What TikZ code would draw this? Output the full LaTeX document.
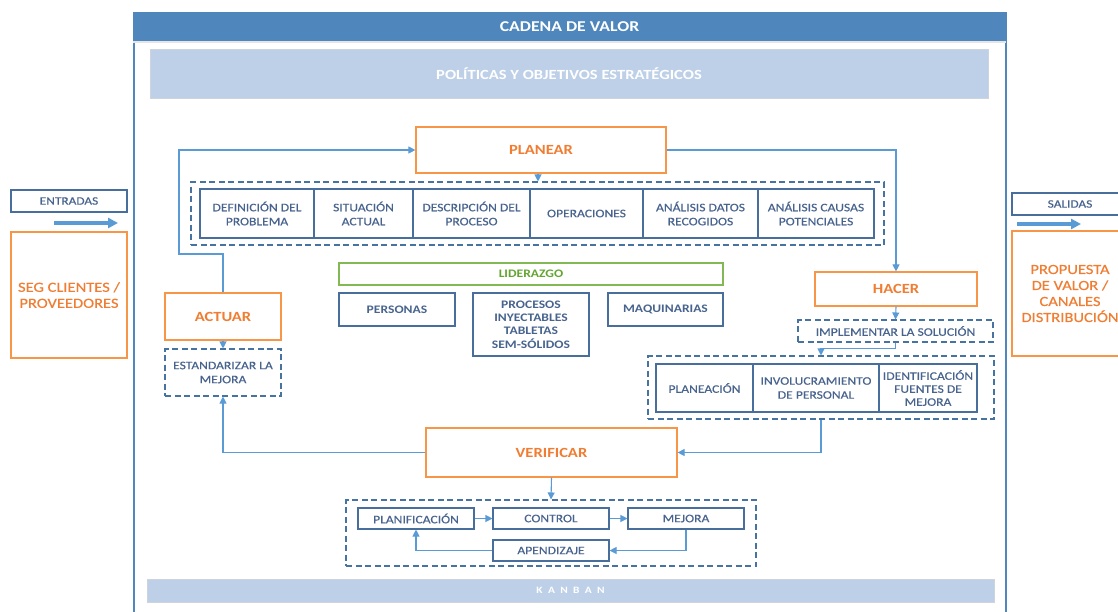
\documentclass[tikz,border=0pt]{standalone}
\usepackage{fontspec}
\setmainfont{Carlito}[FakeStretch=1.18]
\newfontfamily\labelfont{Carlito}[FakeStretch=1.18, FakeBold=0.35]
\usetikzlibrary{arrows.meta}

\definecolor{hdrblue}{RGB}{79,135,188}
\definecolor{barblue}{RGB}{189,208,232}
\definecolor{barline}{RGB}{205,212,222}
\definecolor{boxline}{RGB}{72,110,155}
\definecolor{boxtext}{RGB}{72,100,142}
\definecolor{dashline}{RGB}{70,115,160}
\definecolor{arrowblue}{RGB}{91,155,213}
\definecolor{orangeline}{RGB}{247,150,70}
\definecolor{orangetext}{RGB}{240,125,50}
\definecolor{greenline}{RGB}{130,185,85}
\definecolor{greentext}{RGB}{100,165,50}

\tikzset{
  base/.style={inner sep=0pt, align=center},
  stepbox/.style={base, draw=boxline, line width=1.1pt, text=boxtext,
    font=\labelfont\fontsize{11.5}{14}\selectfont},
  keybox/.style={stepbox, font=\bfseries\fontsize{11.5}{13.3}\selectfont},
  phasebox/.style={base, draw=orangeline, line width=1.2pt, text=orangetext,
    font=\bfseries\fontsize{14}{16}\selectfont},
  sidebox/.style={base, draw=orangeline, line width=1.2pt, text=orangetext,
    font=\labelfont\fontsize{14}{16}\selectfont},
  groupbox/.style={base, draw=dashline, line width=1.1pt, dash pattern=on 6pt off 3.5pt,
    text=boxtext, font=\labelfont\fontsize{11.5}{14}\selectfont},
  bar/.style={base, fill=barblue, draw=barline, line width=0.8pt, text=white,
    font=\bfseries\fontsize{14}{16}\selectfont},
  flow/.style={draw=arrowblue, line width=1.1pt, -{Triangle[length=7pt,width=7pt]}},
  bigflow/.style={draw=arrowblue, line width=3.5pt, -{Triangle[length=10pt,width=10pt]}},
}

\begin{document}
\begin{tikzpicture}[x=1pt, y=-1pt]
\useasboundingbox (0,0) rectangle (1118,611);
\fill[white] (0,0) rectangle (1118,611);

% value chain frame and header
\draw[hdrblue, line width=1.5pt] (134,12) -- (134,615) (1006,12) -- (1006,615);
\node[base, fill=hdrblue, minimum width=873pt, minimum height=29pt, text=white,
  font=\bfseries\fontsize{15}{17}\selectfont] (header) at (569.5,26.5) {CADENA DE VALOR};
\fill[black!10] (133,41) rectangle (1006,43);

% strategic bars
\node[bar, minimum width=838pt, minimum height=49pt] (pol) at (569,73.5)
  {POLÍTICAS Y OBJETIVOS ESTRATÉGICOS};
\node[bar, minimum width=847pt, minimum height=23pt,
  font=\bfseries\fontsize{9.7}{11}\selectfont\addfontfeature{LetterSpace=55}] (kanban) at (570.5,590.5)
  {KANBAN};

% inputs
\node[stepbox, minimum width=116pt, minimum height=22pt, font=\labelfont\fontsize{11.3}{13}\selectfont]
  (entradas) at (69,201) {ENTRADAS};
\coordinate (inA) at (54,223);
\coordinate (inB) at (118,223);
\draw[bigflow] (inA) -- (inB);
\node[sidebox, minimum width=116pt, minimum height=126pt] (seg) at (69,295)
  {SEG CLIENTES /\\PROVEEDORES};

% outputs
\node[stepbox, minimum width=116pt, minimum height=22pt, font=\labelfont\fontsize{11.3}{13}\selectfont]
  (salidas) at (1070,204) {SALIDAS};
\coordinate (outA) at (1017,224);
\coordinate (outB) at (1081,224);
\draw[bigflow] (outA) -- (outB);
\node[sidebox, minimum width=116pt, minimum height=125pt] (prop) at (1070,293.5)
  {PROPUESTA\\DE VALOR /\\CANALES\\DISTRIBUCIÓN};

% PLANEAR
\node[phasebox, minimum width=250pt, minimum height=46pt] (planear) at (541,150) {PLANEAR};
\node[groupbox, minimum width=693pt, minimum height=63pt] (gplan) at (537.5,213.5) {};
\node[stepbox, minimum width=114pt, minimum height=49pt] (def) at (257,213.5) {DEFINICIÓN DEL\\PROBLEMA};
\node[stepbox, minimum width=99pt, minimum height=49pt] (sit) at (363.5,213.5) {SITUACIÓN\\ACTUAL};
\node[stepbox, minimum width=117pt, minimum height=49pt] (desc) at (471.5,213.5) {DESCRIPCIÓN DEL\\PROCESO};
\node[stepbox, minimum width=113pt, minimum height=49pt] (ope) at (586.5,213.5) {OPERACIONES};
\node[stepbox, minimum width=115pt, minimum height=49pt] (adat) at (700.5,213.5) {ANÁLISIS DATOS\\RECOGIDOS};
\node[stepbox, minimum width=116pt, minimum height=49pt] (acau) at (816,213.5) {ANÁLISIS CAUSAS\\POTENCIALES};

% leadership and resources
\node[base, draw=greenline, line width=1.1pt, text=greentext, minimum width=384pt, minimum height=22pt,
  font=\bfseries\fontsize{11.5}{13}\selectfont] (lider) at (531,274) {LIDERAZGO};
\node[keybox, minimum width=116pt, minimum height=33pt] (personas) at (397,309.5) {PERSONAS};
\node[keybox, minimum width=116pt, minimum height=63pt] (procesos) at (531,324.5)
  {PROCESOS\\INYECTABLES\\TABLETAS\\SEM-SÓLIDOS};
\node[keybox, minimum width=115pt, minimum height=33pt] (maq) at (665.5,309.5) {MAQUINARIAS};

% ACTUAR
\node[phasebox, minimum width=116pt, minimum height=47pt] (actuar) at (223,316.5) {ACTUAR};
\node[groupbox, minimum width=116pt, minimum height=47pt] (estand) at (223,372.5)
  {ESTANDARIZAR LA\\MEJORA};

% HACER
\node[phasebox, minimum width=162pt, minimum height=34pt] (hacer) at (896,289) {HACER};
\node[groupbox, minimum width=195pt, minimum height=22pt] (impl) at (895.5,331)
  {IMPLEMENTAR LA SOLUCIÓN};
\node[groupbox, minimum width=346pt, minimum height=63pt] (ghacer) at (821,387.5) {};
\node[stepbox, minimum width=97pt, minimum height=48pt] (planea) at (704.5,388) {PLANEACIÓN};
\node[stepbox, minimum width=126pt, minimum height=48pt] (invol) at (816,388)
  {INVOLUCRAMIENTO\\DE PERSONAL};
\node[stepbox, minimum width=98pt, minimum height=48pt, font=\labelfont\fontsize{11.5}{13}\selectfont] (ident) at (928,388)
  {IDENTIFICACIÓN\\FUENTES DE\\MEJORA};

% VERIFICAR
\node[phasebox, minimum width=251pt, minimum height=49pt] (verif) at (551.5,452.5) {VERIFICAR};
\node[groupbox, minimum width=410pt, minimum height=66pt] (gver) at (551,533) {};
\node[stepbox, minimum width=116pt, minimum height=21pt] (planif) at (416,518.5) {PLANIFICACIÓN};
\node[stepbox, minimum width=116pt, minimum height=21pt] (control) at (551,518.5) {CONTROL};
\node[stepbox, minimum width=116pt, minimum height=21pt] (mejora) at (686,518.5) {MEJORA};
\node[stepbox, minimum width=116pt, minimum height=21pt] (apend) at (551,550.5) {APENDIZAJE};

% cycle connectors
\coordinate (loopL) at (179,254);
\draw[flow] (actuar.north) |- (loopL) |- (planear.west);
\draw[flow] (planear.east) -| (hacer.north);
\draw[flow] (planear.south -| 538,0) -- (538,0 |- gplan.north);
\draw[flow] (actuar.south) -- (estand.north);
\draw[flow] (hacer.south) -- (impl.north);
\draw[flow] (impl.south) -- ++(0,6) -| (ghacer.north);
\draw[flow] (ghacer.south) |- (verif.east);
\draw[flow] (verif.west) -| (estand.south);
\draw[flow] (verif.south) -- (gver.north);
\draw[flow] (planif.east) -- (control.west);
\draw[flow] (control.east) -- (mejora.west);
\draw[flow] (mejora.south) |- (apend.east);
\draw[flow] (apend.west) -| (planif.south);
\end{tikzpicture}
\end{document}
